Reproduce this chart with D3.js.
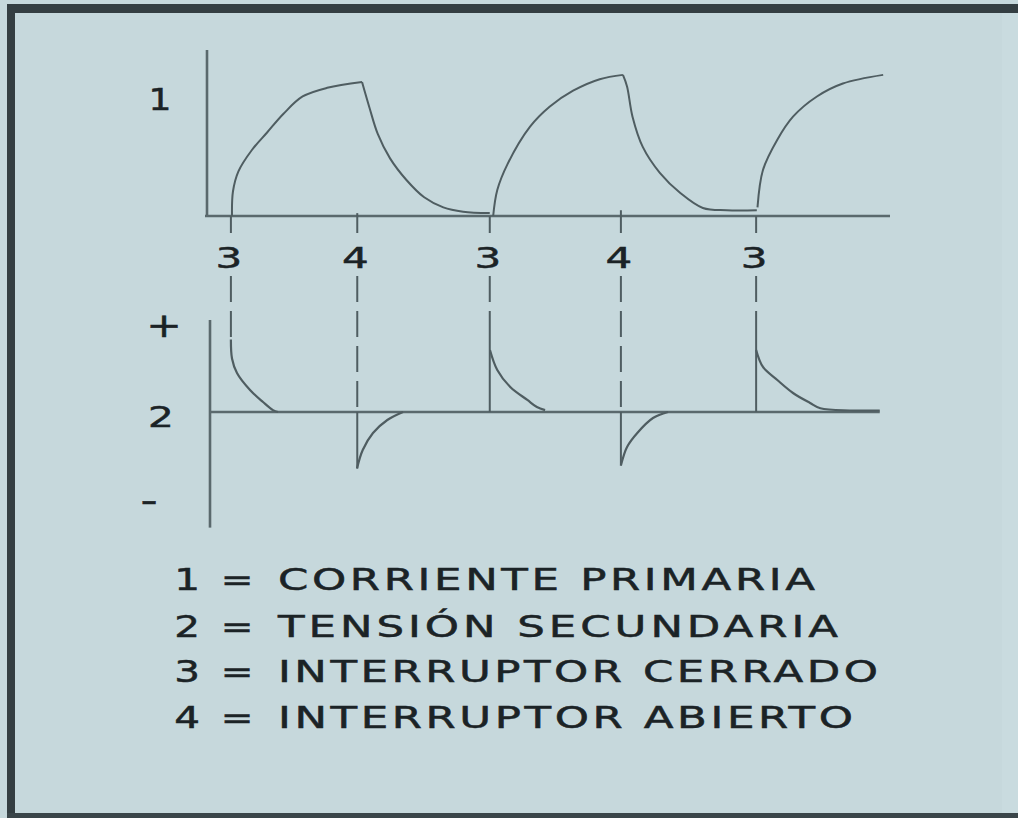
<!DOCTYPE html>
<html>
<head>
<meta charset="utf-8">
<script src="https://cdn.jsdelivr.net/npm/d3@7"></script>
<style>
  html, body { margin: 0; padding: 0; background: #c6d8dc; }
  svg { display: block; }
</style>
</head>
<body>
<svg id="chart" width="1018" height="818"></svg>
<script>
// ---- data (time in ms, signals normalised) ----
const eventTimes  = [3.5, 22.0, 41.4, 60.6, 80.4];   // switch instants
const eventLabels = ["3", "4", "3", "4", "3"];      // 3 = closed, 4 = open

// primary current: one array per rise / decay stretch, [t, i]
const primaryCurrent = [
  [[3.66, 0], [3.8, 0.17], [4.6, 0.31], [6.6, 0.46], [8.8, 0.58], [11.2, 0.71],
   [14.0, 0.83], [17.6, 0.89], [22.7, 0.93]],
  [[22.7, 0.93], [23.8, 0.75], [25.0, 0.57], [26.8, 0.40], [29.2, 0.25], [31.8, 0.13],
   [34.6, 0.06], [37.5, 0.03], [41.4, 0.02]],
  [[41.9, 0], [42.5, 0.18], [44.0, 0.36], [47.3, 0.62], [50.2, 0.76], [53.6, 0.87],
   [57.5, 0.95], [60.9, 0.98]],
  [[60.9, 0.98], [61.5, 0.90], [62.3, 0.69], [63.8, 0.48], [66.3, 0.30], [69.3, 0.16],
   [72.6, 0.056], [76.1, 0.04], [80.5, 0.04]],
  [[80.6, 0.06], [81.4, 0.32], [83.5, 0.53], [85.8, 0.69], [89.3, 0.83], [93.1, 0.92],
   [99.0, 0.98]]
];

// secondary voltage: jump at each switch instant and the decay that follows, [t, u]
const voltageJump = [0.77, -0.60, 1.0, -0.57, 1.0];
const voltageDecay = [
  [[3.5, 0.77], [3.66, 0.57], [4.39, 0.415], [6.3, 0.234], [8.2, 0.106], [9.66, 0.02], [10.4, 0]],
  [[21.96, -0.60], [22.8, -0.404], [24.3, -0.223], [26.4, -0.085], [28.7, 0]],
  [[41.43, 0.66], [42.5, 0.447], [44.4, 0.266], [46.9, 0.128], [48.3, 0.053], [49.5, 0.02]],
  [[60.6, -0.57], [61.5, -0.372], [63.0, -0.223], [65.3, -0.064], [67.5, 0]],
  [[80.4, 0.66], [81.4, 0.479], [83.5, 0.34], [85.8, 0.202], [88.3, 0.096], [89.8, 0.04],
   [94.1, 0.016], [98.5, 0.016]]
];

const legendKeys  = ["1", "2", "3", "4"];
const legendTexts = ["CORRIENTE PRIMARIA", "TENSIÓN SECUNDARIA",
                     "INTERRUPTOR CERRADO", "INTERRUPTOR ABIERTO"];

// ---- layout ----
const W = 1018, H = 818;
const svg = d3.select("#chart");
const FONT = "'DejaVu Sans', sans-serif";
const INK = "#1b2326";
const LINE = "#4f5d61";
const AXIS = "#5a696d";

const x = d3.scaleLinear().domain([0, 100]).range([207, 890]);
const yI = d3.scaleLinear().domain([0, 1]).range([216, 72]);
const yU = d3.scaleLinear().domain([-1, 1]).range([506, 318]);
const smooth = d3.curveCatmullRom.alpha(0.5);

// frame
svg.append("rect").attr("width", W).attr("height", H).attr("fill", "#c6d8dc");
svg.append("rect").attr("x", 1002).attr("y", 13).attr("width", 16).attr("height", 800).attr("fill", "#c9dbdf");
svg.append("rect").attr("x", 7).attr("y", 4).attr("width", W - 7).attr("height", 9).attr("fill", "#343e42");
svg.append("rect").attr("x", 7).attr("y", 4).attr("width", 8).attr("height", H - 4).attr("fill", "#343e42");
svg.append("rect").attr("x", 7).attr("y", 813).attr("width", W - 7).attr("height", 5).attr("fill", "#3a4549");

// text drawn with a horizontal stretch (the lettering is wide and square)
function wideText(str, cx, cy, size, sx, anchor, length) {
  const t = svg.append("text")
    .attr("transform", `translate(${cx},${cy}) scale(${sx},1)`)
    .attr("text-anchor", anchor || "middle")
    .attr("font-family", FONT)
    .attr("font-size", size)
    .attr("fill", INK)
    .attr("stroke", INK)
    .attr("stroke-width", 0.5)
    .text(str);
  if (length) t.attr("textLength", length / sx).attr("lengthAdjust", "spacing");
  return t;
}

// ---- chart 1: primary current ----
svg.append("line").attr("x1", x(0)).attr("x2", x(0)).attr("y1", 50).attr("y2", yI(0) + 1)
  .attr("stroke", AXIS).attr("stroke-width", 2.6);
svg.append("line").attr("x1", x(0) - 2).attr("x2", x(100)).attr("y1", yI(0)).attr("y2", yI(0))
  .attr("stroke", AXIS).attr("stroke-width", 2.6);

const lineI = d3.line().x(d => x(d[0])).y(d => yI(d[1])).curve(smooth);
svg.append("g").selectAll("path").data(primaryCurrent).join("path")
  .attr("d", lineI).attr("fill", "none").attr("stroke", LINE).attr("stroke-width", 2);

// ---- chart 2: secondary voltage ----
svg.append("line").attr("x1", 210).attr("x2", 210).attr("y1", yU(1) + 2).attr("y2", yU(-1.23))
  .attr("stroke", AXIS).attr("stroke-width", 2.6);
svg.append("line").attr("x1", 210).attr("x2", x(98.5)).attr("y1", yU(0)).attr("y2", yU(0))
  .attr("stroke", AXIS).attr("stroke-width", 2.6);

// vertical jumps (the first closing is shown only by its guide line)
svg.append("g").selectAll("line").data(eventTimes.slice(1)).join("line")
  .attr("x1", d => x(d)).attr("x2", d => x(d))
  .attr("y1", yU(0)).attr("y2", (d, i) => yU(voltageJump[i + 1]))
  .attr("stroke", LINE).attr("stroke-width", 2);

const lineU = d3.line().x(d => x(d[0])).y(d => yU(d[1])).curve(smooth);
svg.append("g").selectAll("path").data(voltageDecay).join("path")
  .attr("d", lineU).attr("fill", "none").attr("stroke", LINE).attr("stroke-width", 2.2);

// ---- dashed guides linking both charts at each switch instant ----
const labelTop = 233, labelBottom = 276, labelBase = 268;
eventTimes.forEach((t, i) => {
  const isOpen = eventLabels[i] === "4";
  const top = isOpen ? yI(primaryCurrent[i][primaryCurrent[i].length - 1][1]) : yI(0);
  const bottom = isOpen ? yU(0) : yU(voltageJump[i]);
  const g = svg.append("g").attr("stroke", LINE).attr("stroke-width", 2)
    .attr("stroke-dasharray", "26,9");
  g.append("line").attr("x1", x(t)).attr("x2", x(t)).attr("y1", top).attr("y2", labelTop);
  g.append("line").attr("x1", x(t)).attr("x2", x(t)).attr("y1", labelBottom).attr("y2", bottom);
  wideText(eventLabels[i], x(t) - 2, labelBase, 29, 1.45);
});

// axis markers
wideText("1", 160, 110, 30, 1.2);
wideText("+", 164, 337, 34, 1.25);
wideText("2", 161, 427, 28, 1.45);
wideText("-", 149, 512, 34, 1.4);

// ---- legend ----
const legendBase = [590, 637, 682, 728];
const legendEnd  = [815, 838, 878, 853];
legendKeys.forEach((k, i) => {
  wideText(k, 187, legendBase[i], 30, 1.35);
  wideText("=", 237, legendBase[i], 30, 1.3);
  wideText(legendTexts[i], 278, legendBase[i], 30, 1.45, "start", legendEnd[i] - 278);
});
</script>
</body>
</html>
